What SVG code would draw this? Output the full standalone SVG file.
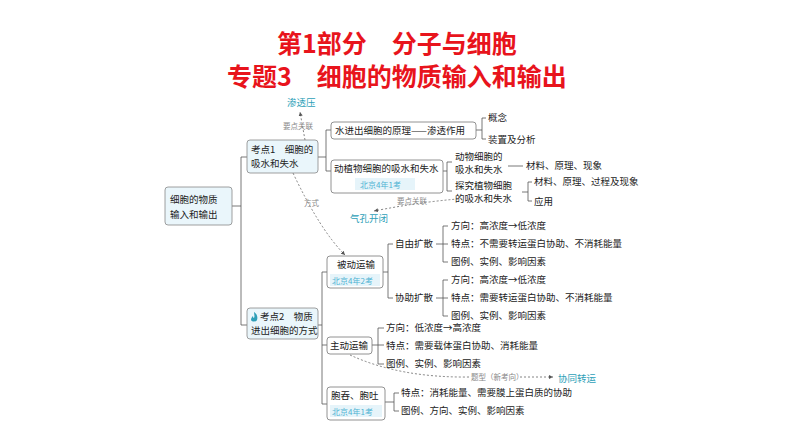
<svg xmlns="http://www.w3.org/2000/svg" width="794" height="446" viewBox="0 0 794 446">
<style>
text{font-family:"Noto Sans CJK SC",sans-serif;font-size:9.5px;fill:#222}
.t{font-size:25px;font-weight:bold;fill:#e8141c}
.box{fill:#fff;stroke:#777;stroke-width:0.8}
.rb{fill:#eaf6fb;stroke:#888;stroke-width:0.8}
.ln{fill:none;stroke:#555;stroke-width:0.8}
.dash{fill:none;stroke:#666;stroke-width:0.8;stroke-dasharray:2 2}
.tl{fill:#2e9fb8;font-size:9.5px}
.g{fill:#888;font-size:7.5px}
.bj{fill:#4eb3d3;font-size:8px}
.bjbg{fill:#e6f4fa;stroke:none}
</style>
<defs><marker id="a" markerWidth="6" markerHeight="6" refX="5" refY="3" orient="auto"><path d="M0,0.5L5,3L0,5.5Z" fill="#555"/></marker></defs>
<rect width="794" height="446" fill="#fff"/>
<g id="title"><text class="t" x="397" y="53" text-anchor="middle">第1部分　分子与细胞</text><text class="t" x="397" y="86" text-anchor="middle">专题3　细胞的物质输入和输出</text></g>
<g id="connectors">
<path class="ln" d="M232,206H241M241,157V325M241,157H247M241,325H247"/>
<path class="ln" d="M318,157H326M326,130V171M326,130H331M326,171H331"/>
<path class="ln" d="M476,130H482M482,118V139M482,118H486M482,139H486"/>
<path class="ln" d="M443,171H447M447,162V191M447,162H452M447,191H452"/>
<path class="ln" d="M508,166H523"/>
<path class="ln" d="M522,192H528M528,182V201M528,182H532M528,201H532"/>
<path class="ln" d="M318,325H322M322,272V404M322,272H327M322,345H327M322,404H327"/>
<path class="ln" d="M383,272H388M388,244V298M388,244H393M388,298H393"/>
<path class="ln" d="M436,244H448M443,226V262M443,226H448M443,262H448"/>
<path class="ln" d="M436,298H448M443,280V316M443,280H448M443,316H448"/>
<path class="ln" d="M372,345H384M378,328V364M378,328H384M378,364H384"/>
<path class="ln" d="M385,402H394M394,393V411M394,393H399M394,411H399"/>
<path class="dash" d="M305,140L300,112" marker-end="url(#a)"/>
<path class="dash" d="M293,173Q320,230 345,255" marker-end="url(#a)"/>
<path class="dash" d="M458,199Q420,202 374,211" marker-end="url(#a)"/>
<path class="dash" d="M350,355Q400,378 470,377M520,377H553" marker-end="url(#a)"/>
</g>
<g id="n_root"><rect class="rb" x="165" y="187" width="67" height="38" rx="3"/><text x="170" y="203">细胞的物质</text><text x="170" y="218">输入和输出</text></g>
<g id="n_k1"><rect class="rb" x="247" y="140" width="71" height="33" rx="3"/><text x="251" y="153">考点1　细胞的</text><text x="251" y="167">吸水和失水</text></g>
<g id="n_k2"><rect class="rb" x="247" y="308" width="71" height="31" rx="3"/><path d="M254,312c3,2 4,5 3,8c-1,2-5,2-6,0c0-2 1-3 2-4c0,2 1,2 1,2c1-2 0-4 0-6z" fill="#2e9fb8"/><text x="260" y="320">考点2　物质</text><text x="251" y="334">进出细胞的方式</text></g>
<g id="n_sp"><text class="tl" x="287" y="106">渗透压</text><text class="g" x="283" y="129">要点关联</text></g>
<g id="n_fs"><text class="g" x="304" y="206">方式</text></g>
<g id="n_qk"><text class="g" x="397" y="204">要点关联</text><text class="tl" x="350" y="222">气孔开闭</text></g>
<g id="n_w1"><rect class="box" x="331" y="122" width="145" height="17" rx="3"/><text x="335" y="134">水进出细胞的原理——渗透作用</text><text x="488" y="121">概念</text><text x="488" y="143">装置及分析</text></g>
<g id="n_w2"><rect class="box" x="331" y="160" width="112" height="33" rx="3"/><text x="334" y="172">动植物细胞的吸水和失水</text><rect class="bjbg" x="355" y="178" width="60" height="12"/><text class="bj" x="360" y="188">北京4年1考</text></g>
<g id="n_a"><text x="455" y="160">动物细胞的</text><text x="455" y="173">吸水和失水</text><text x="526" y="169">材料、原理、现象</text></g>
<g id="n_p"><text x="455" y="189">探究植物细胞</text><text x="455" y="202">的吸水和失水</text><text x="534" y="185">材料、原理、过程及现象</text><text x="534" y="205">应用</text></g>
<g id="n_bd"><rect class="box" x="327" y="256" width="56" height="32" rx="3"/><text x="337" y="268">被动运输</text><rect class="bjbg" x="330" y="274" width="50" height="12"/><text class="bj" x="332" y="284">北京4年2考</text></g>
<g id="n_zy"><text x="395" y="247">自由扩散</text><text x="451" y="229">方向：高浓度→低浓度</text><text x="451" y="247">特点：不需要转运蛋白协助、不消耗能量</text><text x="451" y="265">图例、实例、影响因素</text></g>
<g id="n_xz"><text x="395" y="301">协助扩散</text><text x="451" y="283">方向：高浓度→低浓度</text><text x="451" y="301">特点：需要转运蛋白协助、不消耗能量</text><text x="451" y="319">图例、实例、影响因素</text></g>
<g id="n_zd"><rect class="box" x="327" y="337" width="45" height="17" rx="3"/><text x="330" y="349">主动运输</text><text x="386" y="331">方向：低浓度→高浓度</text><text x="386" y="349">特点：需要载体蛋白协助、消耗能量</text><text x="386" y="367">图例、实例、影响因素</text></g>
<g id="n_tx"><text class="g" x="471" y="380">题型（新考向）</text><text class="tl" x="558" y="382">协同转运</text></g>
<g id="n_bt"><rect class="box" x="327" y="387" width="58" height="33" rx="3"/><text x="331" y="399">胞吞、胞吐</text><rect class="bjbg" x="330" y="405" width="52" height="12"/><text class="bj" x="332" y="415">北京4年1考</text><text x="401" y="396">特点：消耗能量、需要膜上蛋白质的协助</text><text x="401" y="414">图例、方向、实例、影响因素</text></g>
</svg>
